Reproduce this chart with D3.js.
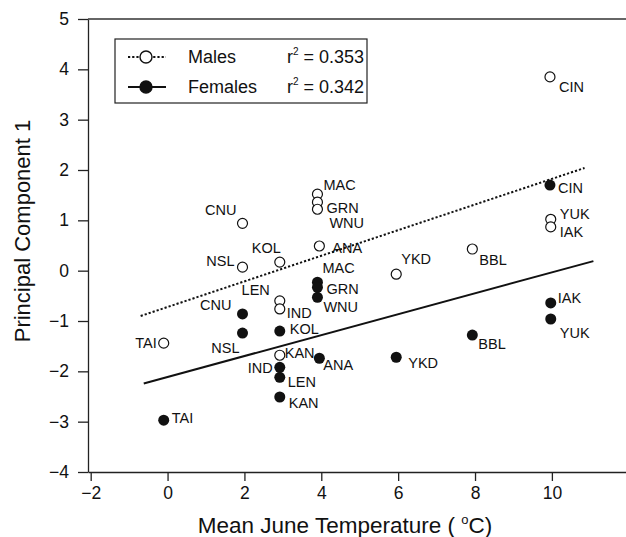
<!DOCTYPE html>
<html>
<head>
<meta charset="utf-8">
<script src="https://cdn.jsdelivr.net/npm/d3@7"></script>
<style>
  body { margin: 0; background: #fff; }
  text { font-family: "Liberation Sans", Arial, sans-serif; fill: #111; }
</style>
</head>
<body>
<div id="chart"></div>
<script>
// data
const sites = ["TAI", "NSL", "CNU", "KOL", "LEN", "IND", "KAN", "MAC", "GRN", "WNU", "ANA", "YKD", "BBL", "CIN", "YUK", "IAK"];
const temp = [-0.1, 1.95, 1.95, 2.92, 2.92, 2.92, 2.92, 3.9, 3.9, 3.9, 3.95, 5.95, 7.93, 9.95, 9.97, 9.97];
const malePC1 = [-1.44, 0.07, 0.94, 0.17, -0.6, -0.76, -1.68, 1.52, 1.36, 1.22, 0.49, -0.07, 0.43, 3.85, 1.02, 0.87];
const femalePC1 = [-2.97, -1.24, -0.86, -1.2, -2.12, -1.92, -2.51, -0.23, -0.33, -0.53, -1.74, -1.72, -1.28, 1.7, -0.96, -0.64];

// fitted regression lines (end points)
const maleFitX = [-0.7, 10.85];
const maleFitY = [-0.9, 2.04];
const femaleFitX = [-0.62, 11.08];
const femaleFitY = [-2.24, 0.19];

const xTicks = [-2, 0, 2, 4, 6, 8, 10];
const yTicks = [-4, -3, -2, -1, 0, 1, 2, 3, 4, 5];
const legendNames = ["Males", "Females"];
const legendR2 = ["0.353", "0.342"];

// label placement next to each point: [dx, dy, anchor]
const maleLabelPos = [
    [-7, 5, "end"], [-8, -1, "end"], [-6, -8, "end"], [1, -9, "end"],
    [-10, -6, "end"], [7, 9, "start"], [5, 3, "start"], [6, -4, "start"],
    [9, 11, "start"], [12, 19, "start"], [13, 7, "start"], [5, -10, "start"],
    [7, 16, "start"], [9, 15, "start"], [9, 0, "start"], [9, 10, "start"]
];
const femaleLabelPos = [
    [8, 3, "start"], [-3, 20, "end"], [-11, -4, "end"], [10, 3, "start"],
    [8, 10, "start"], [-7, 6, "end"], [9, 11, "start"], [5, -9, "start"],
    [9, 7, "start"], [6, 15, "start"], [4, 12, "start"], [12, 11, "start"],
    [6, 14, "start"], [8, 8, "start"], [9, 19, "start"], [7, 0, "start"]
];

const W = 626, H = 537;
const svg = d3.select("#chart")
    .append("svg")
    .attr("width", W)
    .attr("height", H);

const x = d3.scaleLinear().domain([-2.07, 12.1]).range([88, 632.6]);
const y = d3.scaleLinear().domain([-4, 5]).range([472, 19]);

// axes
svg.append("g")
    .attr("transform", `translate(0,${y(-4)})`)
    .call(d3.axisBottom(x).tickValues(xTicks).tickSize(9).tickPadding(6).tickSizeOuter(0))
    .call(g => g.selectAll("text").attr("font-size", "17.5px").attr("fill", "#111"))
    .call(g => g.selectAll("line,path").attr("stroke", "#222").attr("stroke-width", 1.3));

svg.append("g")
    .attr("transform", `translate(${x.range()[0]},0)`)
    .call(d3.axisLeft(y).tickValues(yTicks).tickSize(10).tickPadding(9).tickSizeOuter(0))
    .call(g => g.selectAll("text").attr("font-size", "17.5px").attr("fill", "#111"))
    .call(g => g.selectAll("line,path").attr("stroke", "#222").attr("stroke-width", 1.3));

// top frame line
svg.append("line")
    .attr("x1", x.range()[0]).attr("x2", W)
    .attr("y1", y(5)).attr("y2", y(5))
    .attr("stroke", "#333").attr("stroke-width", 1.3);

// axis titles
const xt = svg.append("text")
    .attr("x", 345).attr("y", 533)
    .attr("text-anchor", "middle")
    .attr("font-size", "22.5px");
xt.append("tspan").text("Mean June Temperature ( ");
xt.append("tspan").attr("font-size", "13px").attr("dy", -9).text("o");
xt.append("tspan").attr("dy", 9).text("C)");

svg.append("text")
    .attr("transform", `translate(30,231) rotate(-90)`)
    .attr("text-anchor", "middle")
    .attr("font-size", "22px")
    .text("Principal Component 1");

// regression lines
const line = d3.line().x(d => x(d[0])).y(d => y(d[1]));
svg.append("path")
    .attr("d", line(d3.zip(maleFitX, maleFitY)))
    .attr("fill", "none").attr("stroke", "#111")
    .attr("stroke-width", 2).attr("stroke-dasharray", "2.2,2");
svg.append("path")
    .attr("d", line(d3.zip(femaleFitX, femaleFitY)))
    .attr("fill", "none").attr("stroke", "#111")
    .attr("stroke-width", 2);

const males = sites.map((s, i) => ({ site: s, t: temp[i], v: malePC1[i], pos: maleLabelPos[i] }));
const females = sites.map((s, i) => ({ site: s, t: temp[i], v: femalePC1[i], pos: femaleLabelPos[i] }));

// points
svg.selectAll(".male")
    .data(males)
    .enter().append("circle")
    .attr("class", "male")
    .attr("cx", d => x(d.t))
    .attr("cy", d => y(d.v))
    .attr("r", 5)
    .attr("fill", "white")
    .attr("stroke", "#111")
    .attr("stroke-width", 1.2);

svg.selectAll(".female")
    .data(females)
    .enter().append("circle")
    .attr("class", "female")
    .attr("cx", d => x(d.t))
    .attr("cy", d => y(d.v))
    .attr("r", 5.5)
    .attr("fill", "#111");

// point labels
svg.selectAll(".label")
    .data(males.concat(females))
    .enter().append("text")
    .attr("class", "label")
    .attr("x", d => x(d.t) + d.pos[0])
    .attr("y", d => y(d.v) + d.pos[1])
    .attr("text-anchor", d => d.pos[2])
    .attr("font-size", "14.5px")
    .text(d => d.site);

// legend
const legend = svg.append("g");
legend.append("rect")
    .attr("x", 115).attr("y", 39)
    .attr("width", 252).attr("height", 64)
    .attr("fill", "white").attr("stroke", "#222").attr("stroke-width", 1.2);

legendNames.forEach((name, i) => {
    const cy = 57 + i * 30;
    legend.append("line")
        .attr("x1", 128).attr("x2", 166)
        .attr("y1", cy).attr("y2", cy)
        .attr("stroke", "#111").attr("stroke-width", 2)
        .attr("stroke-dasharray", i === 0 ? "2.2,2" : null);
    legend.append("circle")
        .attr("cx", 146).attr("cy", cy).attr("r", 6)
        .attr("fill", i === 0 ? "white" : "#111")
        .attr("stroke", "#111").attr("stroke-width", 1.4);
    legend.append("text")
        .attr("x", 188).attr("y", cy + 6)
        .attr("font-size", "18px")
        .text(name);
    const r = legend.append("text")
        .attr("x", 287).attr("y", cy + 6)
        .attr("font-size", "18px");
    r.append("tspan").text("r");
    r.append("tspan").attr("font-size", "10px").attr("dy", -8).text("2");
    r.append("tspan").attr("dy", 8).text(" = " + legendR2[i]);
});
</script>
</body>
</html>
